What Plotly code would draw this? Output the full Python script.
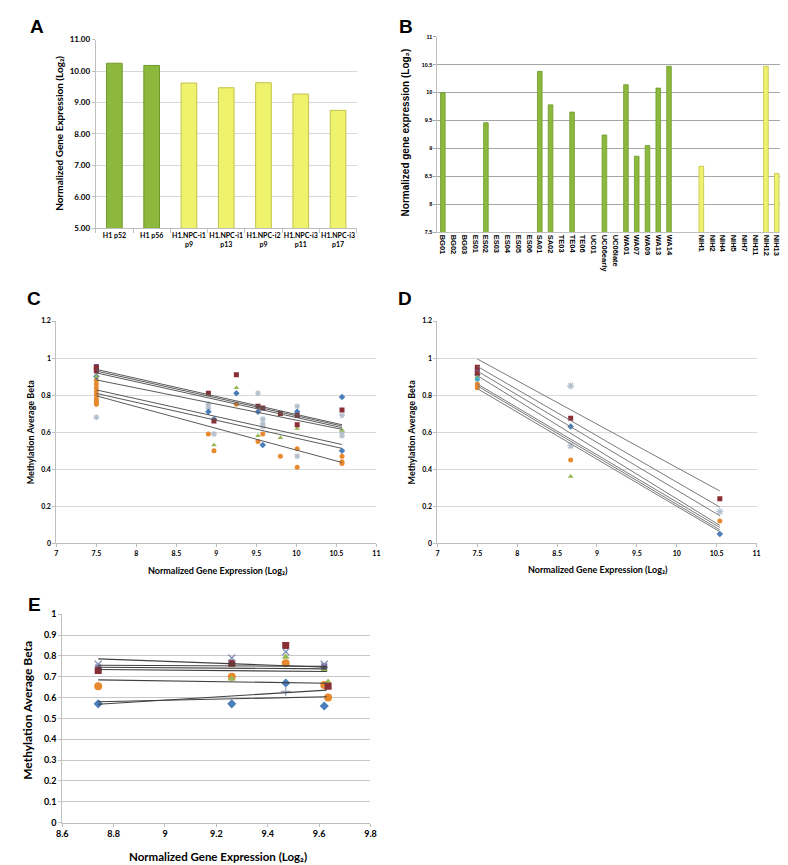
import plotly.graph_objects as go

W, H = 788, 865

# ---------------- Panel A data ----------------
a_labels = ["H1 p52", "H1 p56", "H1.NPC-i1<br>p9", "H1.NPC-i1<br>p13",
            "H1.NPC-i2<br>p9", "H1.NPC-i3<br>p11", "H1.NPC-i3<br>p17"]
a_values = [10.25, 10.18, 9.62, 9.47, 9.63, 9.27, 8.75]
a_is_es = [True, True, False, False, False, False, False]

# ---------------- Panel B data ----------------
b_labels = ["BG01", "BG02", "BG03", "ES01", "ES02", "ES03", "ES04", "ES05", "ES06",
            "SA01", "SA02", "TE03", "TE04", "TE06", "UC01", "UC06early", "UC06late",
            "WA01", "WA07", "WA09", "WA13", "WA14", "gap1", "gap2",
            "NIH1", "NIH2", "NIH4", "NIH5", "NIH7", "NIH11", "NIH12", "NIH13"]
b_values = [10.0, None, None, None, 9.46, None, None, None, None,
            10.38, 9.78, None, 9.65, None, None, 9.24, None,
            10.14, 8.86, 9.05, 10.08, 10.47, None, None,
            8.68, None, None, None, None, None, 10.47, 8.55]
b_shown_ticks = [l for l in b_labels if not l.startswith("gap")]
b_is_nih = [l.startswith("NIH") for l in b_labels]

# ---------------- Panel C data ----------------
c_blue_x = [7.5, 8.90, 8.97, 9.25, 9.52, 9.58, 10.01, 10.57, 10.57]
c_blue_y = [0.90, 0.71, 0.67, 0.81, 0.71, 0.53, 0.71, 0.79, 0.50]
c_red_x = [7.5, 7.5, 8.90, 8.97, 9.25, 9.52, 9.58, 9.80, 10.01, 10.01, 10.57]
c_red_y = [0.95, 0.93, 0.81, 0.66, 0.91, 0.74, 0.73, 0.70, 0.69, 0.64, 0.72]
c_green_x = [7.5, 8.97, 9.25, 9.52, 9.80, 10.01, 10.57]
c_green_y = [0.90, 0.53, 0.84, 0.58, 0.57, 0.62, 0.61]
c_purple_x = [7.5, 7.5]
c_purple_y = [0.955, 0.94]
c_gray_x = [7.5, 8.90, 8.90, 8.97, 9.52, 9.58, 9.58, 9.58, 10.01, 10.01, 10.57, 10.57, 10.57]
c_gray_y = [0.68, 0.75, 0.73, 0.59, 0.81, 0.67, 0.645, 0.63, 0.74, 0.47, 0.69, 0.58, 0.60]
c_orange_x = [7.5, 7.5, 7.5, 7.5, 7.5, 7.5, 7.5, 7.5, 7.5,
              8.90, 8.97, 9.25, 9.52, 9.58, 9.80, 10.01, 10.01, 10.57, 10.57, 10.57]
c_orange_y = [0.88, 0.86, 0.84, 0.82, 0.80, 0.78, 0.77, 0.76, 0.75,
              0.59, 0.50, 0.75, 0.55, 0.59, 0.47, 0.51, 0.41, 0.47, 0.44, 0.43]
c_trend_x = [7.5, 10.57]
c_trend_y0 = [0.939, 0.930, 0.920, 0.882, 0.828, 0.809, 0.796]
c_trend_y1 = [0.640, 0.633, 0.624, 0.615, 0.533, 0.512, 0.436]

# ---------------- Panel D data ----------------
d_blue_x = [7.5, 8.67, 10.54]
d_blue_y = [0.91, 0.63, 0.05]
d_red_x = [7.5, 7.5, 8.67, 10.54]
d_red_y = [0.95, 0.92, 0.675, 0.24]
d_green_x = [7.5, 8.67]
d_green_y = [0.90, 0.36]
d_purple_x = [7.5]
d_purple_y = [0.935]
d_cyan_x = [7.5]
d_cyan_y = [0.885]
d_gray_x = [8.67, 8.67, 10.54]
d_gray_y = [0.85, 0.525, 0.17]
d_orange_x = [7.5, 7.5, 7.5, 8.67, 10.54]
d_orange_y = [0.86, 0.85, 0.84, 0.45, 0.12]
d_trend_x = [7.5, 10.54]
d_trend_y0 = [0.995, 0.955, 0.930, 0.905, 0.860, 0.850, 0.835]
d_trend_y1 = [0.282, 0.195, 0.148, 0.096, 0.085, 0.072, 0.062]

# ---------------- Panel E data ----------------
e_blue_x = [8.74, 9.26, 9.47, 9.62]
e_blue_y = [0.57, 0.57, 0.67, 0.56]
e_red_x = [8.74, 9.26, 9.47, 9.635]
e_red_y = [0.73, 0.765, 0.85, 0.655]
e_green_x = [8.74, 9.26, 9.47, 9.62, 9.635]
e_green_y = [0.735, 0.69, 0.795, 0.735, 0.675]
e_purple_x = [8.74, 9.62]
e_purple_y = [0.745, 0.75]
e_xmark_x = [8.74, 9.26, 9.47, 9.62]
e_xmark_y = [0.76, 0.79, 0.82, 0.76]
e_orange_x = [8.74, 9.26, 9.47, 9.62, 9.635]
e_orange_y = [0.655, 0.70, 0.765, 0.66, 0.60]
e_plus_x = [9.47]
e_plus_y = [0.63]
e_trend_x = [8.74, 9.63]
e_trend_y0 = [0.786, 0.755, 0.746, 0.735, 0.685, 0.580, 0.568]
e_trend_y1 = [0.746, 0.750, 0.738, 0.725, 0.669, 0.604, 0.636]

# ---------------- styles ----------------
GREEN, GREEN_L = "#8DB83E", "#6E9A2C"
YELLOW, YELLOW_L = "#EEF26C", "#C2C24A"
BLUE, RED, GRN, PURP, GRAY, ORNG, CYAN = ("#4A7EBB", "#8B2D35", "#98B954", "#7D60A0",
                                          "#B4C0CC", "#E8892E", "#4BACC6")
TREND = "#5A5A5A"
CAL = "Lato"
ARI = "Liberation Sans"


def dom_x(a, b):
    return [a / W, b / W]


def dom_y(top, bottom):
    return [1 - bottom / H, 1 - top / H]


fig = go.Figure()

# Panel A bars
fig.add_trace(go.Bar(
    x=a_labels, y=a_values, xaxis="x", yaxis="y", width=0.42,
    marker=dict(color=[GREEN if e else YELLOW for e in a_is_es],
                line=dict(color=[GREEN_L if e else YELLOW_L for e in a_is_es], width=1))))

# Panel B bars
fig.add_trace(go.Bar(
    x=b_labels, y=b_values, xaxis="x2", yaxis="y2", width=0.43,
    marker=dict(color=[YELLOW if n else GREEN for n in b_is_nih],
                line=dict(color=[YELLOW_L if n else GREEN_L for n in b_is_nih], width=0.8))))


def add_trends(xs, y0s, y1s, xa, ya, color=TREND, width=1):
    for y0, y1 in zip(y0s, y1s):
        fig.add_trace(go.Scatter(x=xs, y=[y0, y1], mode="lines", xaxis=xa, yaxis=ya,
                                 line=dict(color=color, width=width), hoverinfo="skip"))


def add_pts(xs, ys, xa, ya, symbol, color, size, open_line=False):
    if open_line:
        m = dict(symbol=symbol, size=size, color=color, line=dict(color=color, width=1.2))
    else:
        m = dict(symbol=symbol, size=size, color=color, line=dict(width=0))
    fig.add_trace(go.Scatter(x=xs, y=ys, mode="markers", xaxis=xa, yaxis=ya, marker=m))


# Panel C
add_pts(c_gray_x, c_gray_y, "x3", "y3", "asterisk-open", GRAY, 5, True)
add_pts(c_orange_x, c_orange_y, "x3", "y3", "circle", ORNG, 5)
add_pts(c_blue_x, c_blue_y, "x3", "y3", "diamond", BLUE, 5)
add_pts(c_green_x, c_green_y, "x3", "y3", "triangle-up", GRN, 5)
add_pts(c_purple_x, c_purple_y, "x3", "y3", "square", PURP, 5)
add_pts(c_red_x, c_red_y, "x3", "y3", "square", RED, 5)
add_trends(c_trend_x, c_trend_y0, c_trend_y1, "x3", "y3")

# Panel D
add_pts(d_gray_x, d_gray_y, "x4", "y4", "asterisk-open", GRAY, 6, True)
add_pts(d_orange_x, d_orange_y, "x4", "y4", "circle", ORNG, 5)
add_pts(d_blue_x, d_blue_y, "x4", "y4", "diamond", BLUE, 5)
add_pts(d_green_x, d_green_y, "x4", "y4", "triangle-up", GRN, 5)
add_pts(d_cyan_x, d_cyan_y, "x4", "y4", "circle", CYAN, 5)
add_pts(d_purple_x, d_purple_y, "x4", "y4", "square", PURP, 5)
add_pts(d_red_x, d_red_y, "x4", "y4", "square", RED, 5)
add_trends(d_trend_x, d_trend_y0, d_trend_y1, "x4", "y4", "#7A7A7A", 1)

# Panel E
add_pts(e_blue_x, e_blue_y, "x5", "y5", "diamond", BLUE, 7)
add_pts(e_orange_x, e_orange_y, "x5", "y5", "circle", ORNG, 8)
add_pts(e_green_x, e_green_y, "x5", "y5", "triangle-up", GRN, 7)
add_pts(e_purple_x, e_purple_y, "x5", "y5", "square", PURP, 6)
add_pts(e_red_x, e_red_y, "x5", "y5", "square", RED, 7)
add_pts(e_xmark_x, e_xmark_y, "x5", "y5", "x-thin-open", "#7D8FB0", 7, True)
add_pts(e_plus_x, e_plus_y, "x5", "y5", "cross-thin-open", "#9AA8C0", 7, True)
add_trends(e_trend_x, e_trend_y0, e_trend_y1, "x5", "y5", "#404040", 1.1)


def tick_cal(s):
    return dict(family=CAL, size=s, color="#000000", weight="bold")


def tick_ari(s):
    return dict(family=ARI, size=s, color="#000000", weight="bold")


common_lin = dict(showline=True, linecolor="#BFBFBF", linewidth=1, zeroline=False,
                  fixedrange=True)

fig.update_layout(
    width=W, height=H, margin=dict(l=0, r=0, t=0, b=0),
    paper_bgcolor="white", plot_bgcolor="white", showlegend=False,
    # Panel A
    xaxis=dict(domain=dom_x(83, 348), anchor="y", type="category",
               tickfont=tick_cal(7), tickangle=0, ticks="outside", ticklen=4,
               tickcolor="#BFBFBF", tickson="boundaries", showgrid=False, **common_lin),
    yaxis=dict(domain=dom_y(26, 217), anchor="x", range=[5, 11], dtick=1,
               tickformat=".2f", tickfont=tick_cal(8), showgrid=True,
               gridcolor="#D9D9D9", ticks="outside", ticklen=3, tickcolor="#BFBFBF",
               **common_lin),
    # Panel B
    xaxis2=dict(domain=dom_x(430, 780), anchor="y2", type="category",
                categoryorder="array", categoryarray=b_labels,
                tickmode="array", tickvals=b_shown_ticks, ticktext=b_shown_ticks,
                tickfont=tick_ari(7.5), tickangle=90, ticks="", showgrid=False,
                **common_lin),
    yaxis2=dict(domain=dom_y(23, 221), anchor="x2", range=[7.5, 11], dtick=0.5,
                tickfont=tick_ari(5.5), showgrid=True, gridcolor="#A6A6A6",
                ticks="outside", ticklen=3, tickcolor="#A6A6A6", **common_lin),
    # Panel C
    xaxis3=dict(domain=dom_x(43, 368), anchor="y3", range=[7, 11], dtick=0.5,
                tickfont=tick_cal(7), ticks="outside", ticklen=3, tickcolor="#BFBFBF",
                showgrid=False, **common_lin),
    yaxis3=dict(domain=dom_y(311, 536), anchor="x3", range=[0, 1.2], dtick=0.2,
                tickfont=tick_cal(7), showgrid=True, gridcolor="#D9D9D9",
                ticks="outside", ticklen=3, tickcolor="#BFBFBF", **common_lin),
    # Panel D
    xaxis4=dict(domain=dom_x(430, 754), anchor="y4", range=[7, 11], dtick=0.5,
                tickfont=tick_cal(7), ticks="outside", ticklen=3, tickcolor="#BFBFBF",
                showgrid=False, **common_lin),
    yaxis4=dict(domain=dom_y(311, 536), anchor="x4", range=[0, 1.2], dtick=0.2,
                tickfont=tick_cal(7), showgrid=True, gridcolor="#D9D9D9",
                ticks="outside", ticklen=3, tickcolor="#BFBFBF", **common_lin),
    # Panel E
    xaxis5=dict(domain=dom_x(49, 362), anchor="y5", range=[8.6, 9.8], dtick=0.2,
                tickfont=tick_cal(9), ticks="outside", ticklen=3, tickcolor="#BFBFBF",
                showgrid=False, **common_lin),
    yaxis5=dict(domain=dom_y(608, 819), anchor="x5", range=[0, 1], dtick=0.1,
                tickfont=tick_cal(9), showgrid=True, gridcolor="#C8C8C8",
                ticks="outside", ticklen=3, tickcolor="#BFBFBF", **common_lin),
)

annotations = []


def ann(text, px, py, size, family, angle=0):
    annotations.append(dict(text=text, x=px / W, y=1 - py / H, xref="paper", yref="paper",
                            showarrow=False, textangle=angle, xanchor="center",
                            yanchor="middle",
                            font=dict(family=family, size=size, color="#000000",
                                      weight="bold")))


# panel letters
ann("A", 23, 13, 19, ARI)
ann("B", 398, 13, 19, ARI)
ann("C", 20, 288, 19, ARI)
ann("D", 397, 288, 19, ARI)
ann("E", 21, 598, 19, ARI)

# axis titles
ann("Normalized Gene Expression (Log₂)", 46, 121, 10, CAL, -90)
ann("Normalized gene expression (Log₂)", 398, 120, 10, ARI, -90)
ann("Methylation Average Beta", 17, 423, 9, CAL, -90)
ann("Normalized Gene Expression (Log₂)", 207, 564, 9, CAL)
ann("Methylation Average Beta", 404, 423, 9, CAL, -90)
ann("Normalized Gene Expression (Log₂)", 593, 563, 9, CAL)
ann("Methylation Average Beta", 13, 705, 12, CAL, -90)
ann("Normalized Gene Expression (Log₂)", 207, 853, 11.5, CAL)

fig.update_layout(annotations=annotations)

fig.write_html("out.html")
